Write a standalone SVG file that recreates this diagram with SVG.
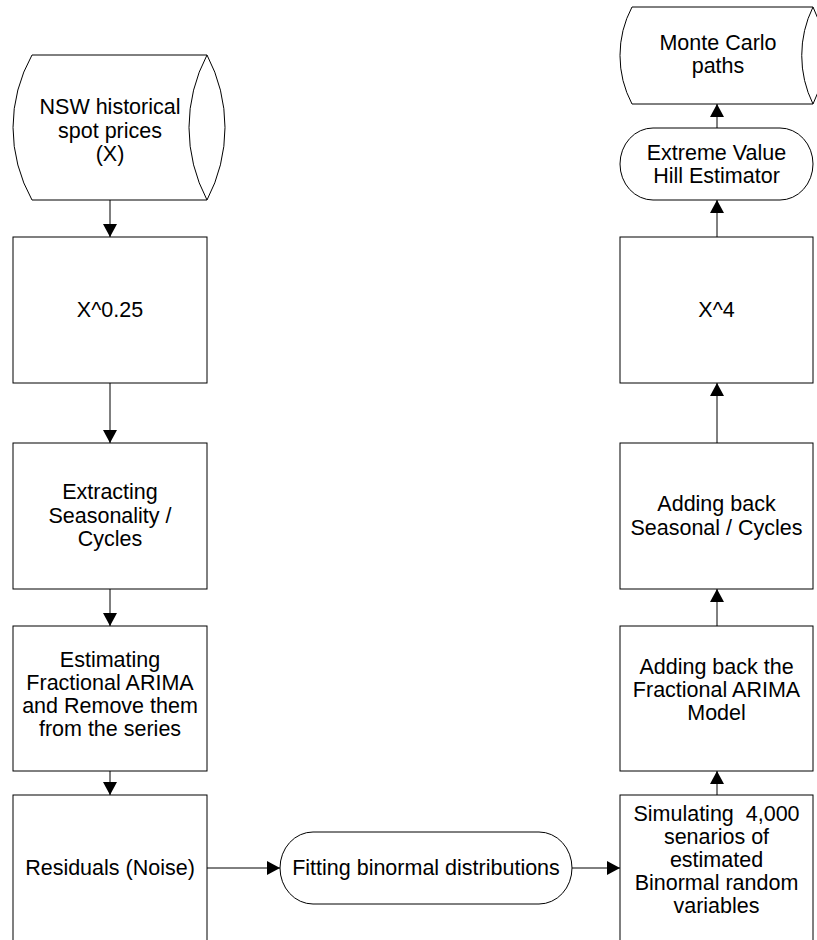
<svg xmlns="http://www.w3.org/2000/svg" width="817" height="940" viewBox="0 0 817 940">
<style>
.s{fill:#fff;stroke:#000;stroke-width:1}
.t{font-family:"Liberation Sans",Arial,sans-serif;font-size:21.5px;fill:#000;text-anchor:middle;white-space:pre}
.c{fill:none;stroke:#000;stroke-width:1}
</style>
<defs>
<marker id="ah" markerUnits="userSpaceOnUse" markerWidth="14" markerHeight="14" viewBox="0 0 13 14" refX="13" refY="7" orient="auto">
<path d="M0,0 L13,7 L0,14 z" fill="#000"/>
</marker>
</defs>
<rect width="817" height="940" fill="#fff"/>
<g id="connectors">
<line class="c" x1="110" y1="200" x2="110" y2="237" marker-end="url(#ah)"/>
<line class="c" x1="110" y1="383" x2="110" y2="443" marker-end="url(#ah)"/>
<line class="c" x1="110" y1="589" x2="110" y2="626" marker-end="url(#ah)"/>
<line class="c" x1="110" y1="771" x2="110" y2="795" marker-end="url(#ah)"/>
<line class="c" x1="207" y1="868" x2="280" y2="868" marker-end="url(#ah)"/>
<line class="c" x1="572" y1="868" x2="620" y2="868" marker-end="url(#ah)"/>
<line class="c" x1="717" y1="795" x2="717" y2="771" marker-end="url(#ah)"/>
<line class="c" x1="717" y1="626" x2="717" y2="589" marker-end="url(#ah)"/>
<line class="c" x1="717" y1="443" x2="717" y2="383" marker-end="url(#ah)"/>
<line class="c" x1="717" y1="237" x2="717" y2="200" marker-end="url(#ah)"/>
<line class="c" x1="717" y1="128" x2="717" y2="104" marker-end="url(#ah)"/>
</g>
<g id="nsw">
<path class="s" d="M32,55 L207,55 A155,155 0 0 1 207,200 L32,200 A148,148 0 0 1 32,55 z"/>
<path class="c" d="M207,55 A155,155 0 0 0 207,200"/>
<text class="t" x="110" y="114">NSW historical</text>
<text class="t" x="110" y="137.5">spot prices</text>
<text class="t" x="110" y="161">(X)</text>
</g>
<g id="pow025">
<rect class="s" x="13" y="237" width="194" height="146"/>
<text class="t" x="110" y="317">X^0.25</text>
</g>
<g id="extract">
<rect class="s" x="13" y="443" width="194" height="146"/>
<text class="t" x="110" y="499">Extracting</text>
<text class="t" x="110" y="522.5">Seasonality /</text>
<text class="t" x="110" y="546">Cycles</text>
</g>
<g id="estimate">
<rect class="s" x="13" y="626" width="194" height="145"/>
<text class="t" x="110" y="667">Estimating</text>
<text class="t" x="110" y="690">Fractional ARIMA</text>
<text class="t" x="110" y="713">and Remove them</text>
<text class="t" x="110" y="736">from the series</text>
</g>
<g id="residuals">
<rect class="s" x="13" y="795" width="194" height="146"/>
<text class="t" x="110" y="875">Residuals (Noise)</text>
</g>
<g id="fitting">
<rect class="s" x="280" y="832" width="292" height="72" rx="33" ry="36"/>
<text class="t" x="426" y="875">Fitting binormal distributions</text>
</g>
<g id="simulating">
<rect class="s" x="620" y="795" width="193" height="146"/>
<text class="t" x="716.5" y="820.5">Simulating  4,000</text>
<text class="t" x="716.5" y="843.5">senarios of</text>
<text class="t" x="716.5" y="867">estimated</text>
<text class="t" x="716.5" y="890">Binormal random</text>
<text class="t" x="716.5" y="913">variables</text>
</g>
<g id="addarima">
<rect class="s" x="620" y="626" width="193" height="145"/>
<text class="t" x="716.5" y="674">Adding back the</text>
<text class="t" x="716.5" y="697">Fractional ARIMA</text>
<text class="t" x="716.5" y="720">Model</text>
</g>
<g id="addseasonal">
<rect class="s" x="620" y="443" width="193" height="146"/>
<text class="t" x="716.5" y="511">Adding back</text>
<text class="t" x="716.5" y="535">Seasonal / Cycles</text>
</g>
<g id="pow4">
<rect class="s" x="620" y="237" width="193" height="146"/>
<text class="t" x="716.5" y="317">X^4</text>
</g>
<g id="hill">
<rect class="s" x="620" y="128" width="193" height="72" rx="33" ry="36"/>
<text class="t" x="716.5" y="160">Extreme Value</text>
<text class="t" x="716.5" y="183">Hill Estimator</text>
</g>
<g id="montecarlo">
<path class="s" d="M632,7 L813,7 A110,110 0 0 1 813,104 L632,104 A104,104 0 0 1 632,7 z"/>
<path class="c" d="M813,7 A110,110 0 0 0 813,104"/>
<text class="t" x="718" y="49.5">Monte Carlo</text>
<text class="t" x="718" y="73">paths</text>
</g>
</svg>
